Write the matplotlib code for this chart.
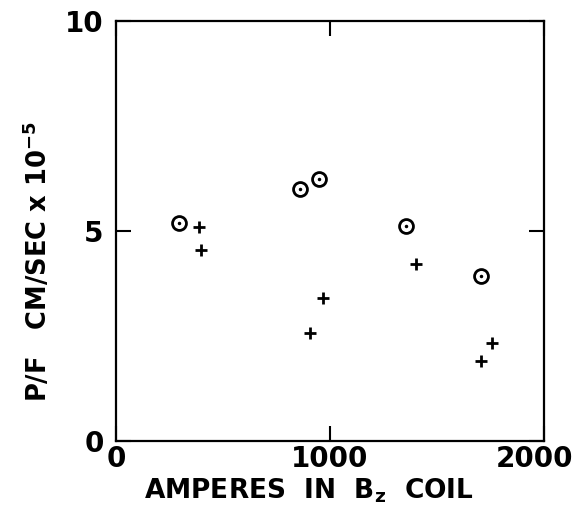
import matplotlib
matplotlib.use("Agg")
import matplotlib.pyplot as plt
from matplotlib.transforms import ScaledTranslation

plt.rcParams['font.family'] = ['DejaVu Sans']
plt.rcParams['font.weight'] = 'bold'
plt.rcParams['mathtext.default'] = 'bf'

# Circle-dot series
circle_x = [296, 860, 950, 1355, 1704]
circle_y = [5.18, 6.00, 6.23, 5.13, 3.94]
# Cross series
cross_x = [388, 397, 908, 969, 1402, 1706, 1758]
cross_y = [5.10, 4.55, 2.58, 3.40, 4.21, 1.91, 2.33]

x_ticks = [0, 1000, 2000]
x_ticklabels = ['0', '1000', '2000']
y_ticks = [0, 5, 10]
y_ticklabels = ['0', '5', '10']

fig = plt.figure(figsize=(5.76, 5.09), dpi=100)
ax = fig.add_axes([116/576, 1-441/509, (544-116)/576, (441-21)/509])

ax.plot(circle_x, circle_y, linestyle='none', marker='o', markersize=10,
        markerfacecolor='white', markeredgecolor='black', markeredgewidth=2)
ax.plot(circle_x, circle_y, linestyle='none', marker='.', markersize=3,
        color='black')
ax.plot(cross_x, cross_y, linestyle='none', marker='+', markersize=9,
        markeredgewidth=2, color='black')

ax.set_xlim(0, 2000)
ax.set_ylim(0, 10)
ax.set_xticks(x_ticks)
ax.set_xticklabels(x_ticklabels)
ax.set_yticks(y_ticks)
ax.set_yticklabels(y_ticklabels)
ax.tick_params(direction='in', length=11, width=1.5, top=True, right=True,
               labelsize=20)
ax.tick_params(axis='x', pad=3)
ax.tick_params(axis='y', pad=9)
for lab in ax.get_xticklabels() + ax.get_yticklabels():
    lab.set_fontweight('bold')
last = ax.get_xticklabels()[-1]
last.set_transform(last.get_transform() + ScaledTranslation(-9/100, 0, fig.dpi_scale_trans))
for s in ax.spines.values():
    s.set_linewidth(1.6)

cond = ['DejaVu Sans Condensed', 'Liberation Sans Narrow', 'DejaVu Sans']
ax.set_xlabel(r'AMPERES  IN  B$_\mathbf{z}$  COIL', fontsize=19,
              fontweight='bold', family=cond)
ax.xaxis.set_label_coords((309-116)/428, -0.084)
ax.set_ylabel(r'P/F   CM/SEC x 10$^{\mathbf{-5}}$', fontsize=18.5,
              fontweight='bold', family=cond)
ax.yaxis.set_label_coords((53-116)/428, (441-262)/420)

fig.savefig('out.png', dpi=100)
